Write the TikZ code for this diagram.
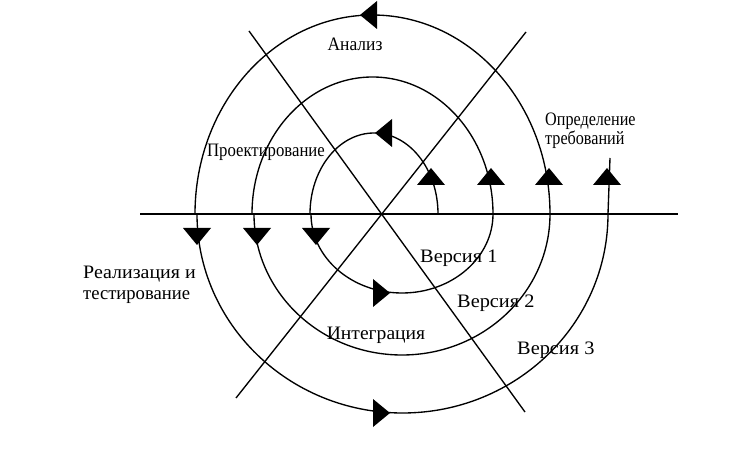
\documentclass[tikz,border=0pt]{standalone}
\usepackage{fontspec}
\setmainfont{Liberation Serif}
\begin{document}
\begin{tikzpicture}[x=1pt,y=1pt,
  line/.style={line width=1.35pt, black},
  lbl/.style={inner sep=0pt, font=\fontsize{19}{19}\selectfont},
  ahead/.pic={\fill[black] (0,0) -- (-17,14) -- (-17,-14) -- cycle;}]
\useasboundingbox[fill=white] (0,0) rectangle (732,-468);
% axis and diagonals
\coordinate (axL) at (140,-214);
\coordinate (axR) at (678,-214);
\coordinate (d1a) at (249,-31);
\coordinate (d1b) at (525,-412);
\coordinate (d2a) at (526,-32);
\coordinate (d2b) at (236,-398);
\draw[line] (axL) -- (axR);
\draw[line] (d1a) -- (d1b);
\draw[line] (d2a) -- (d2b);
% spiral
\coordinate (s0) at (438,-214);
\coordinate (send) at (610,-158);
\draw[line] (s0)
  arc[start angle=0, end angle=180, x radius=64, y radius=81]
  -- (311,-214)
  arc[start angle=180, end angle=360, x radius=91, y radius=79]
  arc[start angle=0, end angle=180, x radius=120.5, y radius=137]
  -- (254,-214)
  arc[start angle=180, end angle=360, x radius=148, y radius=141]
  arc[start angle=0, end angle=180, x radius=177.5, y radius=199]
  -- (197,-214)
  arc[start angle=180, end angle=360, x radius=205.5, y radius=199]
  -- (send);
% arrowheads
\path (431,-168) pic[rotate=90]{ahead};
\path (491,-168) pic[rotate=90]{ahead};
\path (549,-168) pic[rotate=90]{ahead};
\path (607,-168) pic[rotate=90]{ahead};
\path (197,-245) pic[rotate=-90]{ahead};
\path (257,-245) pic[rotate=-90]{ahead};
\path (316,-245) pic[rotate=-90]{ahead};
\path (360,-15) pic[rotate=180]{ahead};
\path (375,-133) pic[rotate=180]{ahead};
\path (390,-293) pic{ahead};
\path (390,-413) pic{ahead};
% labels
\node[lbl] (an) at (355,-44) {\scalebox{0.92}[1]{Анализ}};
\node[lbl] (pr) at (266,-152) {\scalebox{0.88}[1]{Проектирование}};
\node[lbl, anchor=west, align=left, font=\fontsize{19}{17}\selectfont] (op) at (545,-130.5) {\scalebox{0.85}[1]{Определение}\\\scalebox{0.85}[1]{требований}};
\node[lbl, anchor=west, align=left, font=\fontsize{19}{21}\selectfont] (re) at (83,-284.5) {\scalebox{1.05}[1]{Реализация и}\\\scalebox{0.98}[1]{тестирование}};
\node[lbl] (in) at (376,-335) {\scalebox{1.03}[1]{Интеграция}};
\node[lbl, anchor=west] (v1) at (420,-258) {\scalebox{1.07}[1]{Версия 1}};
\node[lbl, anchor=west] (v2) at (457,-303) {\scalebox{1.07}[1]{Версия 2}};
\node[lbl, anchor=west] (v3) at (517,-350) {\scalebox{1.07}[1]{Версия 3}};
\end{tikzpicture}
\end{document}
